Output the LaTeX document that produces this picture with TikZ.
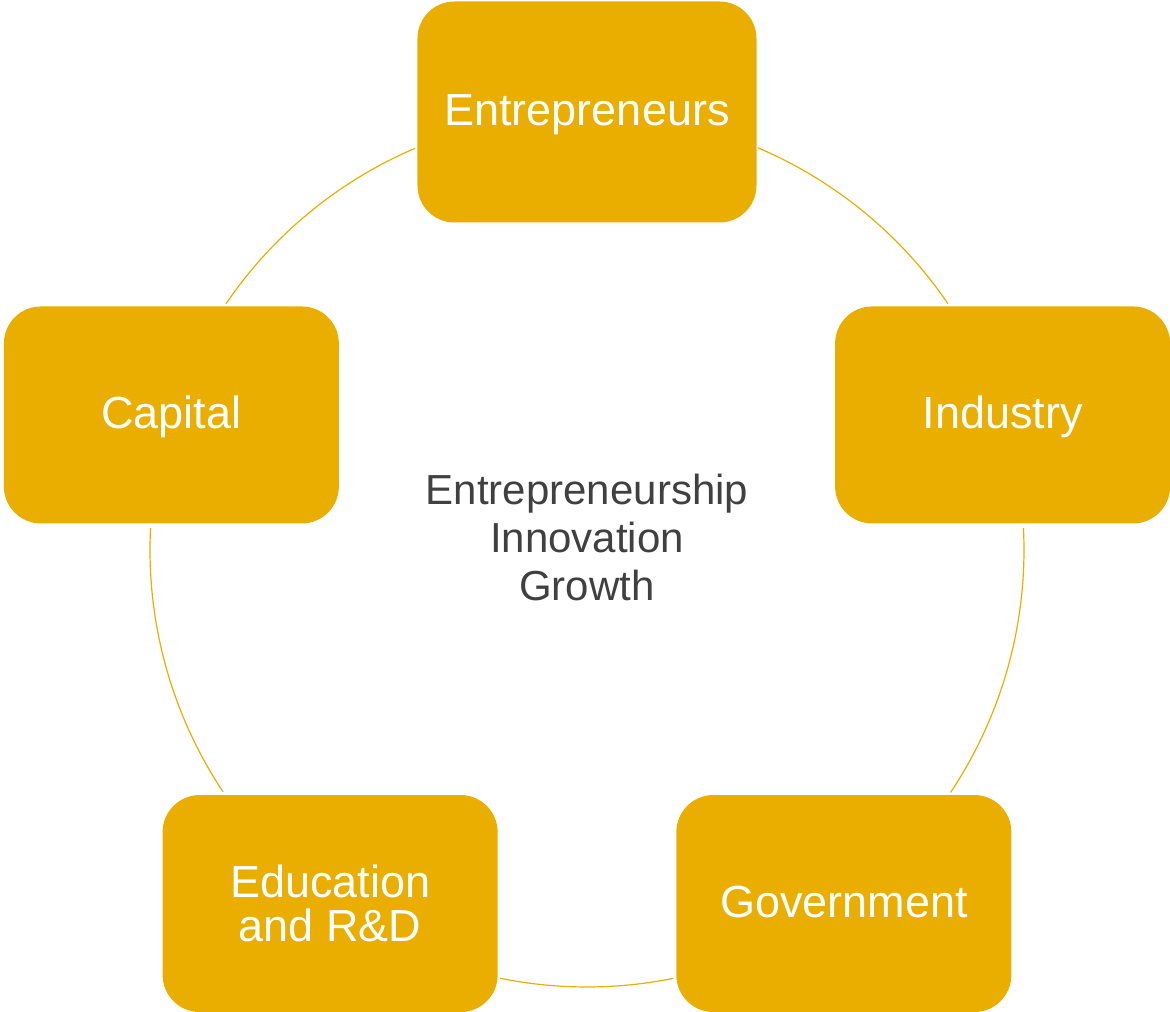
\documentclass[tikz,border=0pt]{standalone}
\usepackage{fontspec}
\setmainfont{Liberation Sans}
\usetikzlibrary{positioning, calc}
\definecolor{gold}{HTML}{EAAE00}
\definecolor{darktext}{HTML}{404040}

\begin{document}
\begin{tikzpicture}
        % Styles
        \tikzstyle{block} = [rectangle, rounded corners=37pt,
        minimum width=335pt, minimum height=217pt, text centered,
        fill=gold, text=white, align=center,
        font=\fontsize{45}{44}\selectfont]
        \tikzstyle{oneline} = [text height=37pt, text depth=10pt]
        \tikzstyle{ring} = [draw=gold, line width=1.2pt]

        \useasboundingbox (-587pt,-463pt) rectangle (583pt,549pt);

        % Nodes
        \coordinate (hub) at (0,-1pt);
        \node (core) [align=center, text=darktext,
        font=\fontsize{42}{48}\selectfont] at (0pt,12pt)
        {Entrepreneurship \\ Innovation \\ Growth};
        \node (entre) [block, oneline, minimum width=339pt,
        minimum height=221pt] at (90:437pt) {Entrepreneurs};
        \node (industry) [block, oneline] at ($(hub)+(18:437pt)$) {Industry};
        \node (gov) [block, oneline] at ($(hub)+(-54:437pt)$) {Government};
        \node (edu) [block] at ($(hub)+(234:437pt)$) {Education \\ and R\&D};
        \node (capital) [block, oneline] at ($(hub)+(162:437pt)$) {Capital};

        % Arcs
        \foreach \a/\b in {67/34.3, 2.9/-33.7, -78.6/-101.5, 213.6/177.1, 145.7/113.2}
        \draw[ring] (hub) ++(\a:437pt) arc[start angle=\a, end angle=\b, radius=437pt];
\end{tikzpicture}
\end{document}
